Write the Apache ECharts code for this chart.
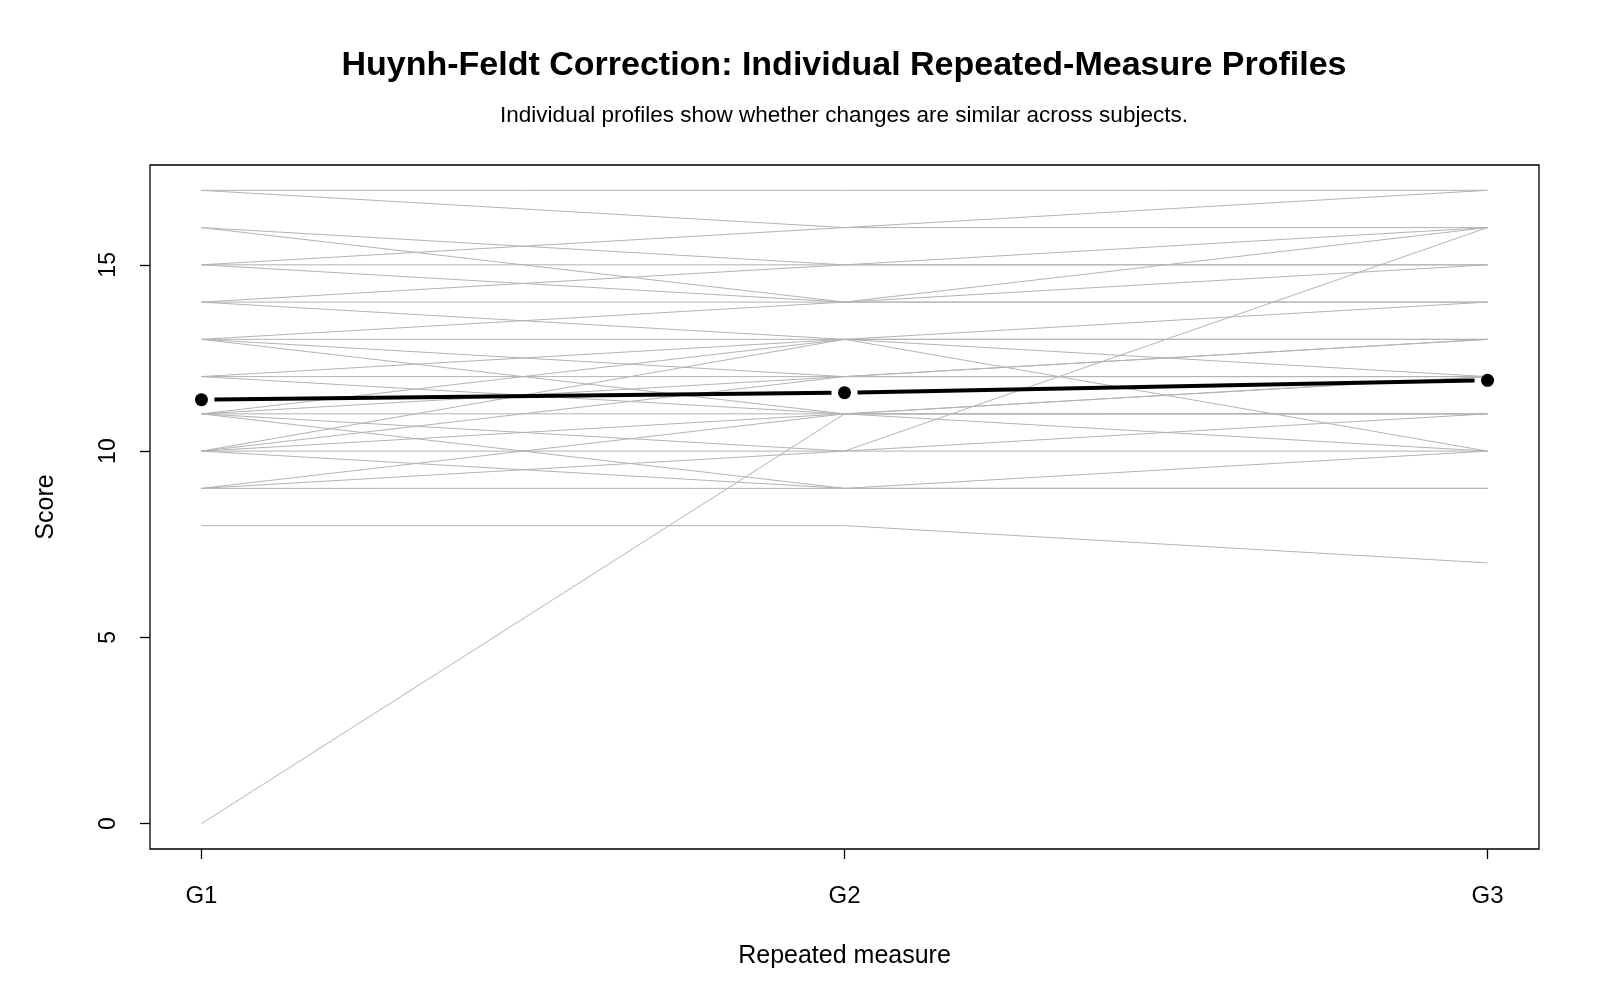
<!DOCTYPE html>
<html>
<head>
<meta charset="utf-8">
<script src="https://cdn.jsdelivr.net/npm/echarts@6/dist/echarts.min.js"></script>
<style>
  html, body { margin: 0; padding: 0; background: #fff; }
  #main { width: 1600px; height: 1000px; }
</style>
</head>
<body>
<div id="main"></div>
<script>
// repeated measure levels
var groups = ['G1', 'G2', 'G3'];
// one entry per subject, same order in each array
var g1 = [17,17,15,16,15,14,16,15,14,13,14,13,12,11,10,13,12,11,10,13,12,11,10,9,0,11,10,9,11,10,9,8];
var g2 = [17,16,16,15,15,15,14,14,14,14,13,13,13,13,13,12,12,12,12,11,11,11,11,11,11,10,10,10,9,9,9,8];
var g3 = [17,17,16,16,15,15,16,15,14,14,14,13,12,10,13,13,12,12,13,12,11,11,10,11,12,16,11,10,10,9,9,7];
// group means (bold line)
var meanScores = [11.38, 11.57, 11.90];
var yTicks = [0, 5, 10, 15];

var myChart = echarts.init(document.getElementById('main'));
var font = 'Liberation Sans, Arial, sans-serif';

var series = [];
for (var i = 0; i < g1.length; i++) {
    series.push({
        type: 'line',
        data: [[1, g1[i]], [2, g2[i]], [3, g3[i]]],
        showSymbol: false,
        silent: true,
        lineStyle: { color: '#b3b3b3', width: 1 },
        z: 2
    });
}

// mean line segments, drawn with a gap round each point (like type="b")
var segs = [];
for (var k = 0; k < meanScores.length - 1; k++) {
    segs.push([k + 1, meanScores[k], k + 2, meanScores[k + 1]]);
}
series.push({
    type: 'custom',
    data: segs,
    silent: true,
    z: 5,
    renderItem: function (params, api) {
        var a = api.coord([api.value(0), api.value(1)]);
        var b = api.coord([api.value(2), api.value(3)]);
        var dx = b[0] - a[0], dy = b[1] - a[1];
        var len = Math.sqrt(dx * dx + dy * dy);
        var gap = 13;
        var ux = dx / len, uy = dy / len;
        return {
            type: 'line',
            shape: {
                x1: a[0] + ux * gap, y1: a[1] + uy * gap,
                x2: b[0] - ux * gap, y2: b[1] - uy * gap
            },
            style: { stroke: '#000', lineWidth: 4 }
        };
    }
});
series.push({
    type: 'scatter',
    data: meanScores.map(function (v, j) { return [j + 1, v]; }),
    symbol: 'circle',
    symbolSize: 13,
    itemStyle: { color: '#000', opacity: 1 },
    silent: true,
    z: 6
});

var option = {
    animation: false,
    backgroundColor: '#fff',
    title: [{
        text: 'Huynh-Feldt Correction: Individual Repeated-Measure Profiles',
        left: 844,
        textAlign: 'center',
        top: 49,
        padding: 0,
        textStyle: { fontFamily: font, fontSize: 34, fontWeight: 'bold', color: '#000' }
    }, {
        text: 'Individual profiles show whether changes are similar across subjects.',
        left: 844,
        textAlign: 'center',
        top: 104,
        padding: 0,
        textStyle: { fontFamily: font, fontSize: 22.5, fontWeight: 'normal', color: '#000' }
    }],
    grid: {
        left: 150, top: 165, width: 1389, height: 684,
        show: true, borderColor: '#000', borderWidth: 1.3,
        containLabel: false
    },
    xAxis: {
        type: 'value',
        min: 0.92, max: 3.08,
        name: 'Repeated measure',
        nameLocation: 'middle',
        nameGap: 107,
        nameTextStyle: { fontFamily: font, fontSize: 25, color: '#000', verticalAlign: 'middle' },
        axisLine: { show: false, onZero: false },
        splitLine: { show: false },
        axisTick: { show: true, inside: false, length: 10, customValues: [1, 2, 3], lineStyle: { color: '#000', width: 1.3 } },
        axisLabel: {
            customValues: [1, 2, 3],
            formatter: function (v) { return groups[Math.round(v) - 1]; },
            fontFamily: font, fontSize: 24, color: '#000',
            margin: 47, verticalAlign: 'middle'
        }
    },
    yAxis: {
        type: 'value',
        min: -0.68, max: 17.68,
        name: 'Score',
        nameLocation: 'middle',
        nameGap: 104,
        nameTextStyle: { fontFamily: font, fontSize: 25, color: '#000', verticalAlign: 'middle' },
        axisLine: { show: false, onZero: false },
        splitLine: { show: false },
        axisTick: { show: true, inside: false, length: 10, customValues: yTicks, lineStyle: { color: '#000', width: 1.3 } },
        axisLabel: {
            customValues: yTicks,
            rotate: 90,
            fontFamily: font, fontSize: 23, color: '#000',
            margin: 30
        }
    },
    series: series
};

myChart.setOption(option);
</script>
</body>
</html>
